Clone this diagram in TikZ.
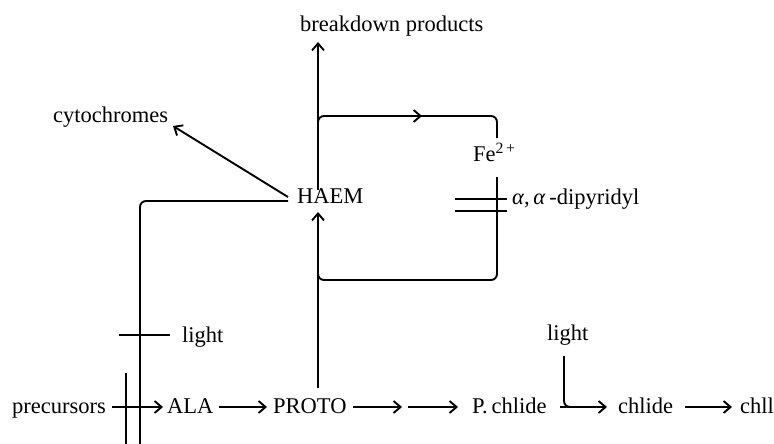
\documentclass[tikz,border=0pt]{standalone}
\usepackage{fontspec}
\setmainfont{Liberation Serif}
\usetikzlibrary{arrows.meta}
\begin{document}
\begin{tikzpicture}[x=1pt,y=-1pt,
  txt/.style={inner sep=0pt,anchor=base west,font=\fontsize{22.5}{27}\selectfont},
  ln/.style={line width=1.9pt},
  arr/.style={ln,-{Straight Barb[length=7pt,width=12pt,line width=1.9pt]}},
  rc/.style={ln,rounded corners=6pt}]
\useasboundingbox (0,0) rectangle (774,444);
% texts
\node[txt] (bp) at (300,32) {breakdown products};
\node[txt] (cyt) at (53,122) {cytochromes};
\node[txt] (haem) at (297,203) {HAEM};
\node[txt] (fe) at (473,161) {Fe\textsuperscript{2\,+}};
\node[txt] (dip) at (512,204) {\textit{α},\,\textit{α}\,-dipyridyl};
\node[txt] (lightL) at (182,342) {light};
\node[txt] (lightR) at (547,340) {light};
\node[txt] (prec) at (12,413) {precursors};
\node[txt] (ala) at (167,413) {ALA};
\node[txt] (proto) at (273,413) {PROTO};
\node[txt] (pch) at (472,413) {P.\,chlide};
\node[txt] (chlide) at (618,413) {chlide};
\node[txt] (chll) at (740,413) {chll};
% helper coordinates
\coordinate (hT) at (318,190);
\coordinate (bpB) at (318,42);
\coordinate (hB) at (318,212);
\coordinate (pT) at (318,388);
\coordinate (hL) at (288,201);
\coordinate (cytA) at (288,197);
\coordinate (cytT) at (173,126);
\coordinate (feT) at (497,138);
\coordinate (feB) at (497,177);
\coordinate (loopR) at (497,280);
\coordinate (botL) at (140,444);
\coordinate (bar1T) at (126,373);
\coordinate (bar1B) at (126,444);
\coordinate (lbL) at (119,335);
\coordinate (lbR) at (170,335);
\coordinate (d1L) at (455,199);
\coordinate (d1R) at (507,199);
\coordinate (d2L) at (455,211);
\coordinate (d2R) at (507,211);
\coordinate (lrT) at (564,356);
\coordinate (cr) at (564,407);
% haem connectors
\draw[arr] (hT) -- (bpB);
\draw[arr] (cytA) -- (cytT);
\draw[arr] (pT) -- (hB);
\draw[rc] (318,140) |- (497,116) -- (feT);
\draw[arr] (405,116) -- (422,116);
\draw[rc] (feB) -- (loopR) -| (318,262);
\draw[rc] (hL) -| (botL);
% inhibition bars
\draw[ln] (bar1T) -- (bar1B);
\draw[ln] (lbL) -- (lbR);
\draw[ln] (d1L) -- (d1R);
\draw[ln] (d2L) -- (d2R);
% main row
\draw[arr] (112,407) -- (163,407);
\draw[arr] (219,407) -- (267,407);
\draw[arr] (353,407) -- (402,407);
\draw[arr] (408,407) -- (458,407);
\draw[arr] (560,407) -- (607,407);
\draw[rc] (lrT) |- (582,407);
\draw[arr] (685,407) -- (732,407);
\end{tikzpicture}
\end{document}
